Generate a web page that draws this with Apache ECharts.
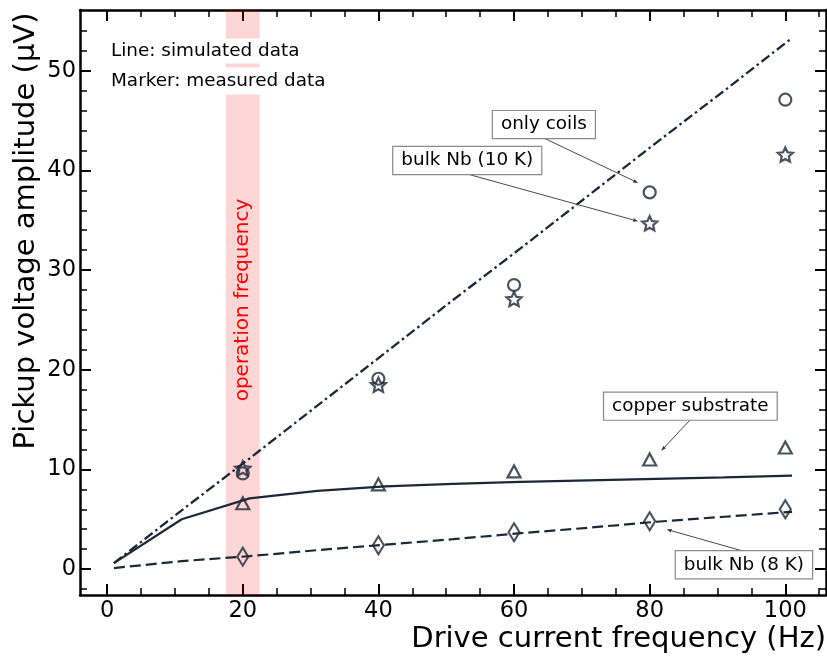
<!DOCTYPE html>
<html>
<head>
<meta charset="utf-8">
<script src="https://cdn.jsdelivr.net/npm/echarts@6/dist/echarts.min.js"></script>
<style>
  html, body { margin: 0; padding: 0; background: #ffffff; }
  #chart { width: 827px; height: 657px; }
</style>
</head>
<body>
<div id="chart"></div>
<script>
// Simulated curves: drive frequency (Hz) vs pickup amplitude (µV)
const simFreq      = [1, 11, 21, 31, 41, 51, 61, 71, 81, 91, 101];
const simOnlyCoils = [0.6, 5.9, 11.1, 16.4, 21.7, 27.0, 32.2, 37.5, 42.8, 48.0, 53.3];
const simCopper    = [0.6, 5.0, 7.1, 7.85, 8.3, 8.55, 8.75, 8.9, 9.05, 9.2, 9.38];
const simBulkNb8K  = [0.1, 0.8, 1.3, 1.9, 2.45, 3.0, 3.6, 4.15, 4.75, 5.25, 5.75];

// Measured points
const measFreq      = [20, 40, 60, 80, 100];
const measOnlyCoils = [9.6, 19.1, 28.5, 37.8, 47.1];
const measBulkNb10K = [10.1, 18.5, 27.1, 34.7, 41.6];
const measCopper    = [6.6, 8.5, 9.8, 11.0, 12.2];
const measBulkNb8K  = [1.25, 2.4, 3.7, 4.8, 6.0];

// Tick positions
const xMajorTicks = [0, 20, 40, 60, 80, 100];
const xMinorTicks = [5, 10, 15, 25, 30, 35, 45, 50, 55, 65, 70, 75, 85, 90, 95, 105];
const yMajorTicks = [0, 10, 20, 30, 40, 50];
const yMinorTicks = [-2, 2, 4, 6, 8, 12, 14, 16, 18, 22, 24, 26, 28, 32, 34, 36, 38, 42, 44, 46, 48, 52, 54];

// Highlighted operating frequency band (Hz)
const operationBand = [17.5, 22.5];

// Callout labels: text, box centre and arrow tip in data units
const calloutText = ['only coils', 'bulk Nb (10 K)', 'copper substrate', 'bulk Nb (8 K)'];
const calloutBox  = [[64.4, 44.6], [53.1, 41.0], [86.0, 16.35], [93.9, 0.43]];
const calloutTip  = [[78.3, 38.75], [78.3, 34.9], [81.7, 11.87], [82.5, 3.98]];

const X_MIN = -4, X_MAX = 106, Y_MIN = -2.6, Y_MAX = 56.1;
const INK = '#1c2838';
const FONT = 'DejaVu Sans';

function zip(xs, ys) { return xs.map((x, i) => [x, ys[i]]); }

// Five-pointed star outline as an SVG path
function starPath(inner) {
  const pts = [];
  for (let k = 0; k < 10; k++) {
    const r = k % 2 === 0 ? 1 : inner;
    const a = -Math.PI / 2 + k * Math.PI / 5;
    pts.push((r * Math.cos(a)).toFixed(4) + ' ' + (r * Math.sin(a)).toFixed(4));
  }
  return 'path://M' + pts.join(' L') + ' Z';
}

function frameAxis(kind, position, ticks, len, width, labels, showLine) {
  const isX = kind === 'x';
  return {
    type: 'value',
    position: position,
    min: isX ? X_MIN : Y_MIN,
    max: isX ? X_MAX : Y_MAX,
    axisLine: { show: showLine, onZero: false, lineStyle: { color: '#000', width: 2.5 } },
    axisTick: { show: true, inside: true, length: len, customValues: ticks,
                lineStyle: { color: '#000', width: width } },
    axisLabel: labels ? { show: true, customValues: ticks, margin: isX ? 5 : 4,
                          fontSize: 22.5, color: '#000', fontFamily: FONT }
                      : { show: false },
    splitLine: { show: false },
    minorTick: { show: false },
    minorSplitLine: { show: false }
  };
}

const chart = echarts.init(document.getElementById('chart'), null, { renderer: 'canvas' });

const markerStyle = { color: 'rgba(0,0,0,0)', borderColor: INK, borderWidth: 2.2 };

chart.setOption({
  animation: false,
  backgroundColor: '#ffffff',
  textStyle: { fontFamily: FONT },
  grid: { left: 80, right: 1, top: 10, bottom: 62, containLabel: false },
  xAxis: [
    frameAxis('x', 'bottom', xMajorTicks, 11, 2, true, true),
    frameAxis('x', 'bottom', xMinorTicks, 7, 1.5, false, false),
    frameAxis('x', 'top', xMajorTicks, 11, 2, false, true),
    frameAxis('x', 'top', xMinorTicks, 7, 1.5, false, false)
  ],
  yAxis: [
    frameAxis('y', 'left', yMajorTicks, 11, 2, true, true),
    frameAxis('y', 'left', yMinorTicks, 7, 1.5, false, false),
    frameAxis('y', 'right', yMajorTicks, 11, 2, false, true),
    frameAxis('y', 'right', yMinorTicks, 7, 1.5, false, false)
  ],
  series: [
    {
      name: 'operation band', type: 'line', data: [], silent: true, z: 1,
      markArea: {
        silent: true,
        itemStyle: { color: 'rgba(255,0,0,0.16)' },
        data: [[{ xAxis: operationBand[0] }, { xAxis: operationBand[1] }]]
      }
    },
    {
      name: 'sim only coils', type: 'line', data: zip(simFreq, simOnlyCoils),
      symbol: 'none', z: 3,
      lineStyle: { color: INK, width: 2.3, type: [10, 3.5, 2.5, 3.5] }
    },
    {
      name: 'sim copper substrate', type: 'line', data: zip(simFreq, simCopper),
      symbol: 'none', z: 3,
      lineStyle: { color: INK, width: 2.2, type: 'solid' }
    },
    {
      name: 'sim bulk Nb (8 K)', type: 'line', data: zip(simFreq, simBulkNb8K),
      symbol: 'none', z: 3,
      lineStyle: { color: INK, width: 2.2, type: [11, 5] }
    },
    {
      name: 'only coils', type: 'scatter', data: zip(measFreq, measOnlyCoils),
      symbol: 'circle', symbolSize: 12, z: 5, itemStyle: markerStyle
    },
    {
      name: 'bulk Nb (10 K)', type: 'scatter', data: zip(measFreq, measBulkNb10K),
      symbol: starPath(0.47), symbolSize: 15, symbolKeepAspect: true, z: 5, itemStyle: markerStyle
    },
    {
      name: 'copper substrate', type: 'scatter', data: zip(measFreq, measCopper),
      symbol: 'triangle', symbolSize: [13, 12], z: 5, itemStyle: markerStyle
    },
    {
      name: 'bulk Nb (8 K)', type: 'scatter', data: zip(measFreq, measBulkNb8K),
      symbol: 'diamond', symbolSize: [11, 18], z: 5, itemStyle: markerStyle
    }
  ]
});

// Overlay texts, callout boxes and arrows, placed through the chart's own scales
function toPx(p) { return chart.convertToPixel({ seriesIndex: 1 }, p); }

const elements = [];

// Axis titles
elements.push({
  type: 'text', z: 100, x: 26, y: 231, rotation: Math.PI / 2,
  style: { text: 'Pickup voltage amplitude (μV)', font: '29px "DejaVu Sans"', fill: '#000',
           align: 'center', verticalAlign: 'middle' }
});
elements.push({
  type: 'text', z: 100, x: 826, y: 639,
  style: { text: 'Drive current frequency (Hz)', font: '29px "DejaVu Sans"', fill: '#000',
           align: 'right', verticalAlign: 'middle' }
});

// Legend notes with white backing
elements.push({
  type: 'text', z: 100, x: 107, y: 51,
  style: { text: 'Line: simulated data', font: '18.4px "DejaVu Sans"', fill: '#000',
           align: 'left', verticalAlign: 'middle', lineHeight: 19,
           backgroundColor: '#ffffff', padding: [3, 4] }
});
elements.push({
  type: 'text', z: 100, x: 107, y: 81,
  style: { text: 'Marker: measured data', font: '18.4px "DejaVu Sans"', fill: '#000',
           align: 'left', verticalAlign: 'middle', lineHeight: 19,
           backgroundColor: '#ffffff', padding: [4, 4] }
});

// Band caption
const bandLabel = toPx([(operationBand[0] + operationBand[1]) / 2, 27]);
elements.push({
  type: 'text', z: 100, x: bandLabel[0], y: bandLabel[1], rotation: Math.PI / 2,
  style: { text: 'operation frequency', font: '20px "DejaVu Sans"', fill: '#ff0000',
           align: 'center', verticalAlign: 'middle' }
});

// Callouts
const BOX_HALF_H = 13.5;
calloutText.forEach((txt, i) => {
  const c = toPx(calloutBox[i]);
  const t = toPx(calloutTip[i]);
  const sy = t[1] > c[1] ? c[1] + BOX_HALF_H : c[1] - BOX_HALF_H;
  const sx = c[0];
  const dx = t[0] - sx, dy = t[1] - sy;
  const L = Math.hypot(dx, dy);
  const ux = dx / L, uy = dy / L;
  const head = 5, hw = 1.8;
  const bx = t[0] - ux * head, by = t[1] - uy * head;
  elements.push({
    type: 'line', z: 90,
    shape: { x1: sx, y1: sy, x2: bx, y2: by },
    style: { stroke: '#333333', lineWidth: 0.9 }
  });
  elements.push({
    type: 'polygon', z: 90,
    shape: { points: [[t[0], t[1]], [bx - uy * hw, by + ux * hw], [bx + uy * hw, by - ux * hw]] },
    style: { fill: '#333333' }
  });
  elements.push({
    type: 'text', z: 100, x: c[0], y: c[1],
    style: { text: txt, font: '18.4px "DejaVu Sans"', fill: '#000',
             align: 'center', verticalAlign: 'middle', lineHeight: 19,
             backgroundColor: '#ffffff', borderColor: '#8a8a8a', borderWidth: 1.2,
             padding: [4, 8] }
  });
});

chart.setOption({ graphic: { elements: elements } });
</script>
</body>
</html>
